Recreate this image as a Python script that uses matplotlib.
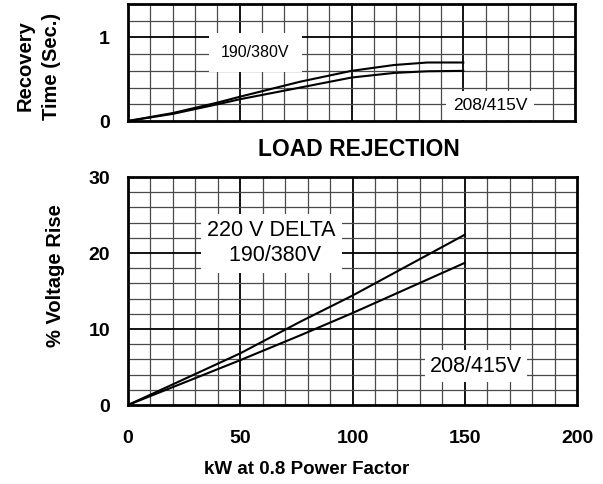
import matplotlib
matplotlib.use("Agg")
import matplotlib.pyplot as plt
import numpy as np

plt.rcParams['font.family'] = ['Liberation Sans', 'DejaVu Sans']

# recovery time after load rejection (seconds)
kw_top = [0, 20, 40, 50, 77, 100, 119, 134, 150]
rec_190 = [0, 0.095, 0.22, 0.29, 0.47, 0.60, 0.67, 0.70, 0.70]
rec_208 = [0, 0.085, 0.20, 0.26, 0.40, 0.52, 0.575, 0.595, 0.60]

# % voltage rise
kw_bot = [0, 50, 77, 100, 150]
rise_190 = [0, 6.8, 11.0, 14.4, 22.4]
rise_208 = [0, 5.9, 9.2, 12.1, 18.7]

x_ticks = [0, 50, 100, 150, 200]


def grid_it(ax, ymax, ystep, ymajor):
    for x in np.arange(10, 200, 10):
        major = x % 50 == 0
        ax.axvline(x, color='black' if major else '#4a4a4a',
                   lw=1.3 if major else 0.9, zorder=1)
    for y in np.arange(ystep, ymax, ystep):
        major = abs(y / ymajor - round(y / ymajor)) < 1e-6
        ax.axhline(y, color='black' if major else '#4a4a4a',
                   lw=1.3 if major else 0.9, zorder=1)
    for s in ax.spines.values():
        s.set_linewidth(2)
        s.set_zorder(5)
    ax.set_xlim(0, 200)
    ax.set_ylim(0, ymax)
    ax.tick_params(length=0, labelsize=14, pad=13)
    for lab in ax.get_yticklabels() + ax.get_xticklabels():
        lab.set_fontweight('bold')


fig = plt.figure(figsize=(6.03, 4.84), dpi=100)

ax1 = fig.add_axes([128 / 603, 1 - 121 / 484, 447 / 603, 117 / 484])
ax1.plot(kw_top, rec_190, color='black', lw=1.5, zorder=3)
ax1.plot(kw_top, rec_208, color='black', lw=1.5, zorder=3)
ax1.set_yticks([0, 1])
ax1.set_xticks(x_ticks)
ax1.set_xticklabels([])
grid_it(ax1, 1.4, 0.2, 1.0)
ax1.text(57, 0.82, "190/380V", fontsize=11.5, ha='center', va='center',
         bbox=dict(facecolor='white', edgecolor='none',
                   boxstyle='square,pad=0.75'), zorder=4)
ax1.text(162, 0.19, "208/415V", fontsize=12.5, ha='center', va='center',
         bbox=dict(facecolor='white', edgecolor='none',
                   boxstyle='square,pad=0.4'), zorder=4)

ax2 = fig.add_axes([128 / 603, 1 - 405 / 484, 449 / 603, 228 / 484])
ax2.plot(kw_bot, rise_190, color='black', lw=1.5, zorder=3)
ax2.plot(kw_bot, rise_208, color='black', lw=1.5, zorder=3)
ax2.set_yticks([0, 10, 20, 30])
ax2.set_xticks(x_ticks)
grid_it(ax2, 30, 2, 10)
ax2.tick_params(axis='x', pad=18)
ax2.text(64, 21.3, "220 V DELTA\n 190/380V", fontsize=15.5, ha='center',
         va='center', multialignment='center', linespacing=1.25,
         bbox=dict(facecolor='white', edgecolor='none',
                   boxstyle='square,pad=0.3'), zorder=4)
ax2.text(155, 5.1, "208/415V", fontsize=15.5, ha='center', va='center',
         bbox=dict(facecolor='white', edgecolor='none',
                   boxstyle='square,pad=0.25'), zorder=4)

fig.text(359 / 603, 1 - 149 / 484, "LOAD REJECTION", fontsize=16.5,
         fontweight='bold', ha='center', va='center')
fig.text(38 / 603, 1 - 66 / 484, "Recovery\nTime (Sec.)", fontsize=14.5,
         fontweight='bold', rotation=90, ha='center', va='center',
         multialignment='center', linespacing=1.5)
fig.text(56 / 603, 1 - 276 / 484, "% Voltage Rise", fontsize=14.5,
         fontweight='bold', rotation=90, ha='center', va='center')
fig.text(307 / 603, 1 - 470 / 484, "kW at 0.8 Power Factor", fontsize=13.5,
         fontweight='bold', ha='center', va='center')

fig.savefig("out.png", dpi=100)
